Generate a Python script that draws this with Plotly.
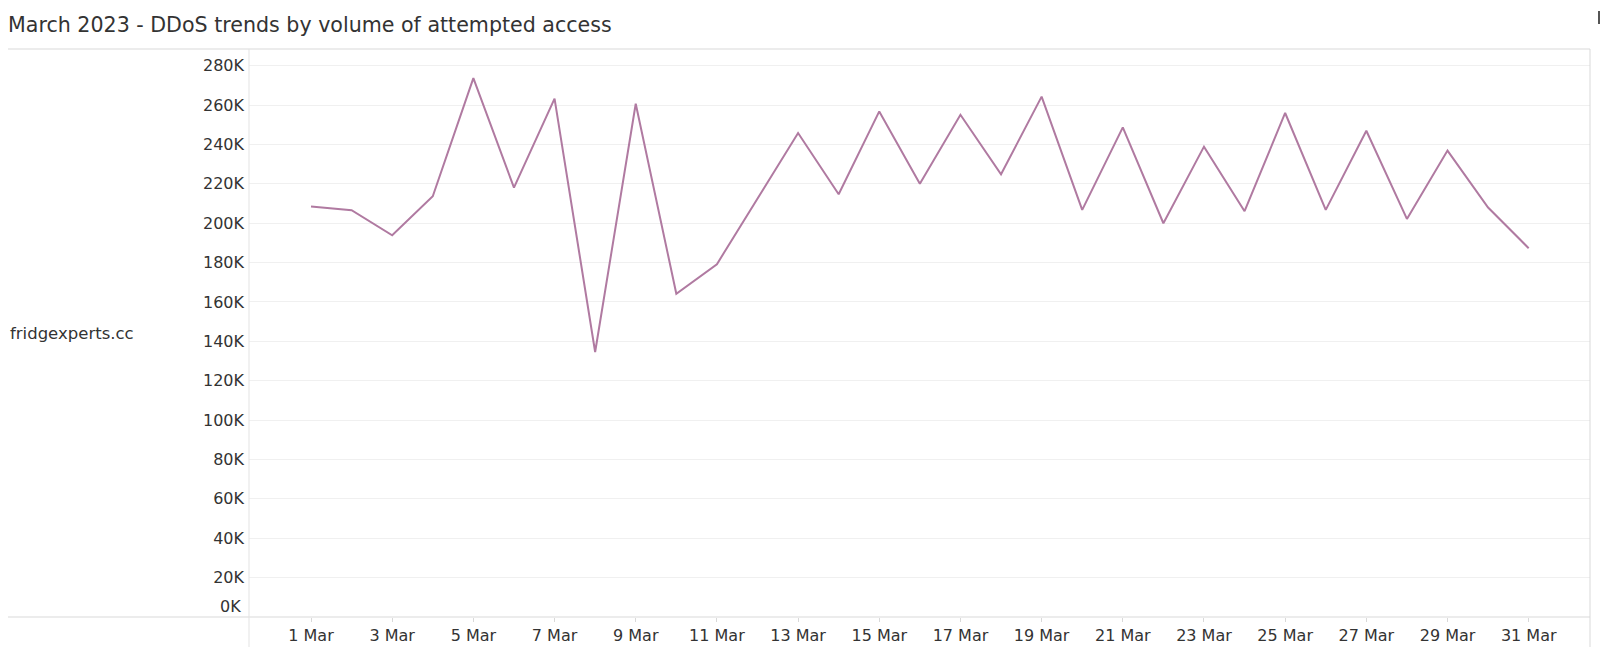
import plotly.graph_objects as go

# ---- data ----
dates = [f"2023-03-{d:02d}" for d in range(1, 32)]
attempts = [
    208500, 206600, 193900, 213700, 273700, 218100, 263300, 134600, 260700, 164200,
    179200, 212500, 245800, 214700, 256800, 220100, 255100, 224900, 264300, 206800,
    248700, 200000, 238900, 206100, 256000, 206800, 247000, 202200, 236900, 208000,
    187300,
]
x_tick_vals = [f"2023-03-{d:02d}" for d in range(1, 32, 2)]
x_tick_text = [f"{d} Mar" for d in range(1, 32, 2)]
y_tick_vals = list(range(0, 280001, 20000))
y_tick_text = [f"{v // 1000}K" if v > 0 else "" for v in y_tick_vals]
row_label = "fridgexperts.cc"
title_text = "March 2023 - DDoS trends by volume of attempted access"

FONT = "DejaVu Sans"
TXT = "#333333"
BORDER = "#d9d9d9"

fig = go.Figure()
fig.add_trace(go.Scatter(
    x=dates, y=attempts, mode="lines",
    line=dict(color="#b07aa1", width=2),
    hoverinfo="x+y", showlegend=False,
))

W, H = 1600, 656
L, R, T, B = 249, 10, 49, 39
pw, ph = W - L - R, H - T - B


def px_x(x):
    return (x - L) / pw


def px_y(y):
    return (H - B - y) / ph


shapes = [
    dict(type="line", xref="paper", yref="paper", x0=px_x(8), x1=1, y0=1, y1=1,
         line=dict(color=BORDER, width=1)),
    dict(type="line", xref="paper", yref="paper", x0=px_x(8), x1=1, y0=0, y1=0,
         line=dict(color=BORDER, width=1)),
    dict(type="line", xref="paper", yref="paper", x0=0, x1=0, y0=px_y(647), y1=1,
         line=dict(color="#e3e3e3", width=1)),
    dict(type="line", xref="paper", yref="paper", x0=1, x1=1, y0=px_y(647), y1=1,
         line=dict(color=BORDER, width=1)),
    dict(type="line", xref="paper", yref="paper", x0=px_x(1599), x1=px_x(1599),
         y0=px_y(24), y1=px_y(11), line=dict(color="#555555", width=2)),
]

fig.update_layout(
    width=W, height=H,
    margin=dict(l=L, r=R, t=T, b=B),
    paper_bgcolor="white", plot_bgcolor="white",
    font=dict(family=FONT, size=16, color=TXT),
    title=dict(text=title_text, x=8 / W, xanchor="left", xref="container",
               y=1 - 25 / H, yanchor="middle", yref="container",
               font=dict(family=FONT, size=20.6, color=TXT)),
    shapes=shapes,
    annotations=[
        dict(text=row_label, xref="paper", yref="paper", x=px_x(8), y=0.5,
             xanchor="left", yanchor="middle", showarrow=False,
             font=dict(family=FONT, size=16.5, color=TXT)),
        dict(text="0K", xref="paper", yref="y", x=0, y=0, xanchor="right",
             yanchor="middle", xshift=-6, yshift=11, showarrow=False,
             font=dict(family=FONT, size=16, color=TXT)),
    ],
)

fig.update_xaxes(
    type="date",
    range=["2023-02-27 11:20", "2023-04-01 12:15"],
    tickmode="array", tickvals=x_tick_vals, ticktext=x_tick_text,
    ticks="outside", ticklen=4, tickcolor=BORDER,
    showgrid=False, zeroline=False, showline=False,
    tickfont=dict(family=FONT, size=16, color=TXT),
)
fig.update_yaxes(
    range=[0, 288500],
    tickmode="array", tickvals=y_tick_vals, ticktext=y_tick_text,
    showgrid=True, gridcolor="#f0f0f0", gridwidth=1,
    zeroline=False, showline=False, ticks="",
    ticklabelstandoff=4,
    tickfont=dict(family=FONT, size=16, color=TXT),
)

fig.write_html(
    "out.html",
    config={"displayModeBar": False},
    post_script="document.body.style.margin='0';document.body.style.overflow='hidden';",
)
